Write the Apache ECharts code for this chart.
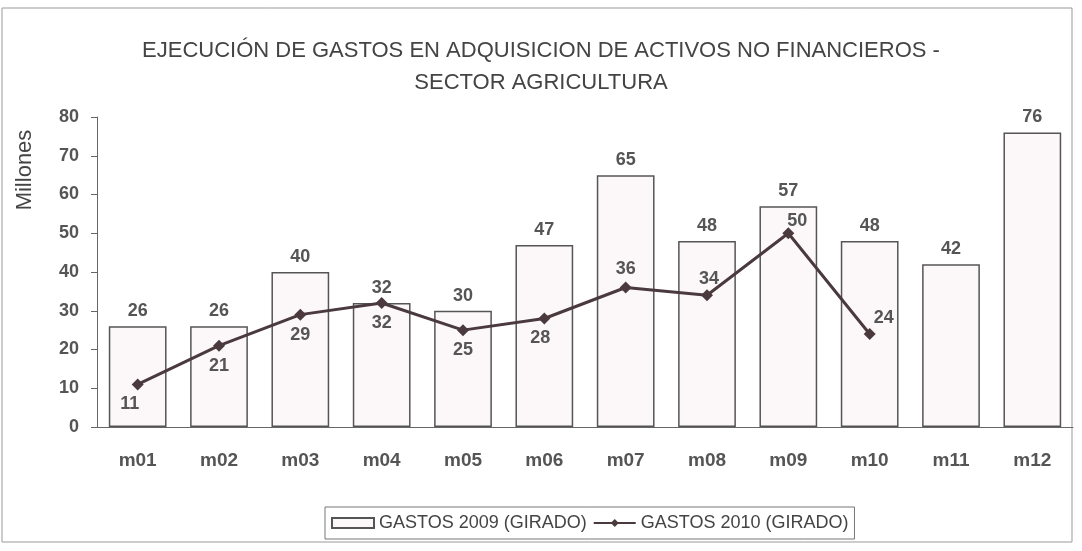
<!DOCTYPE html>
<html>
<head>
<meta charset="utf-8">
<script src="https://cdn.jsdelivr.net/npm/echarts@6/dist/echarts.min.js"></script>
<style>
  html, body { margin: 0; padding: 0; background: #fff; }
  #chart { width: 1082px; height: 551px; }
</style>
</head>
<body>
<div id="chart"></div>
<script>
const months = ['m01', 'm02', 'm03', 'm04', 'm05', 'm06', 'm07', 'm08', 'm09', 'm10', 'm11', 'm12'];
const gastos2009 = [26, 26, 40, 32, 30, 47, 65, 48, 57, 48, 42, 76];
const gastos2010 = [11, 21, 29, 32, 25, 28, 36, 34, 50, 24];
// where each 2010 label sits relative to its point
const labelPos2010 = ['bottom', 'bottom', 'bottom', 'bottom', 'bottom', 'bottom', 'top', 'top', 'top', 'top'];
const labelShift2010 = [[-8, 0], [0, 0], [0, 0], [0, 0], [0, 0], [-4, 0], [0, 2], [2, 4], [9, 8], [14, 4]];
const yTicks = [0, 80, 10];

const textColor = '#444';
const font = 'Liberation Sans, Arial, sans-serif';

let myChart = echarts.init(document.getElementById('chart'));

let option = {
  backgroundColor: '#fff',
  animation: false,
  title: {
    text: 'EJECUCIÓN DE GASTOS EN ADQUISICION DE ACTIVOS NO FINANCIEROS -\nSECTOR AGRICULTURA',
    left: 'center',
    top: 30,
    textStyle: {
      fontFamily: font,
      fontSize: 22,
      fontWeight: 'normal',
      color: textColor,
      lineHeight: 32
    }
  },
  legend: {
    bottom: 12,
    left: 325,
    itemGap: 6,
    itemWidth: 42,
    itemHeight: 10,
    padding: [7, 6],
    borderColor: '#777',
    borderWidth: 1,
    textStyle: { fontFamily: font, fontSize: 18, color: textColor },
    data: [
      { name: 'GASTOS 2009 (GIRADO)', icon: 'rect' },
      { name: 'GASTOS 2010 (GIRADO)' }
    ]
  },
  graphic: [
    {
      type: 'rect',
      shape: { x: 2, y: 8, width: 1070, height: 534 },
      style: { fill: 'none', stroke: '#999', lineWidth: 1 },
      silent: true
    },
    {
      type: 'text',
      x: 25,
      y: 170,
      rotation: Math.PI / 2,
      style: {
        text: 'Millones',
        fontFamily: font,
        fontSize: 22,
        fill: textColor,
        align: 'center',
        verticalAlign: 'middle'
      }
    }
  ],
  grid: { left: 97, right: 9, top: 117, bottom: 124 },
  xAxis: {
    type: 'category',
    data: months,
    axisLine: { lineStyle: { color: '#666', width: 1 } },
    axisTick: { alignWithLabel: false, length: 6, lineStyle: { color: '#666' } },
    axisLabel: {
      margin: 24,
      fontFamily: font,
      fontSize: 19,
      fontWeight: 'bold',
      color: '#555'
    }
  },
  yAxis: {
    type: 'value',
    min: yTicks[0],
    max: yTicks[1],
    interval: yTicks[2],
    splitLine: { show: false },
    axisLine: { show: true, lineStyle: { color: '#666', width: 1 } },
    axisTick: { show: true, length: 6, lineStyle: { color: '#666' } },
    axisLabel: {
      margin: 18,
      fontFamily: font,
      fontSize: 18,
      fontWeight: 'bold',
      color: '#555'
    }
  },
  series: [
    {
      name: 'GASTOS 2009 (GIRADO)',
      type: 'bar',
      data: gastos2009,
      barCategoryGap: '29%',
      itemStyle: { color: '#fcf8fa', borderColor: '#555', borderWidth: 1.5 },
      label: {
        show: true,
        position: 'top',
        distance: 6,
        fontFamily: font,
        fontSize: 18,
        fontWeight: 'bold',
        color: '#555'
      }
    },
    {
      name: 'GASTOS 2010 (GIRADO)',
      type: 'line',
      data: gastos2010.map((v, i) => ({
        value: v,
        label: { position: labelPos2010[i], offset: labelShift2010[i] }
      })),
      symbol: 'diamond',
      symbolSize: 12,
      lineStyle: { color: '#4a3a3e', width: 3 },
      itemStyle: { color: '#4a3a3e' },
      label: {
        show: true,
        distance: 5,
        fontFamily: font,
        fontSize: 18,
        fontWeight: 'bold',
        color: '#555'
      }
    }
  ]
};

option && myChart.setOption(option);
</script>
</body>
</html>
